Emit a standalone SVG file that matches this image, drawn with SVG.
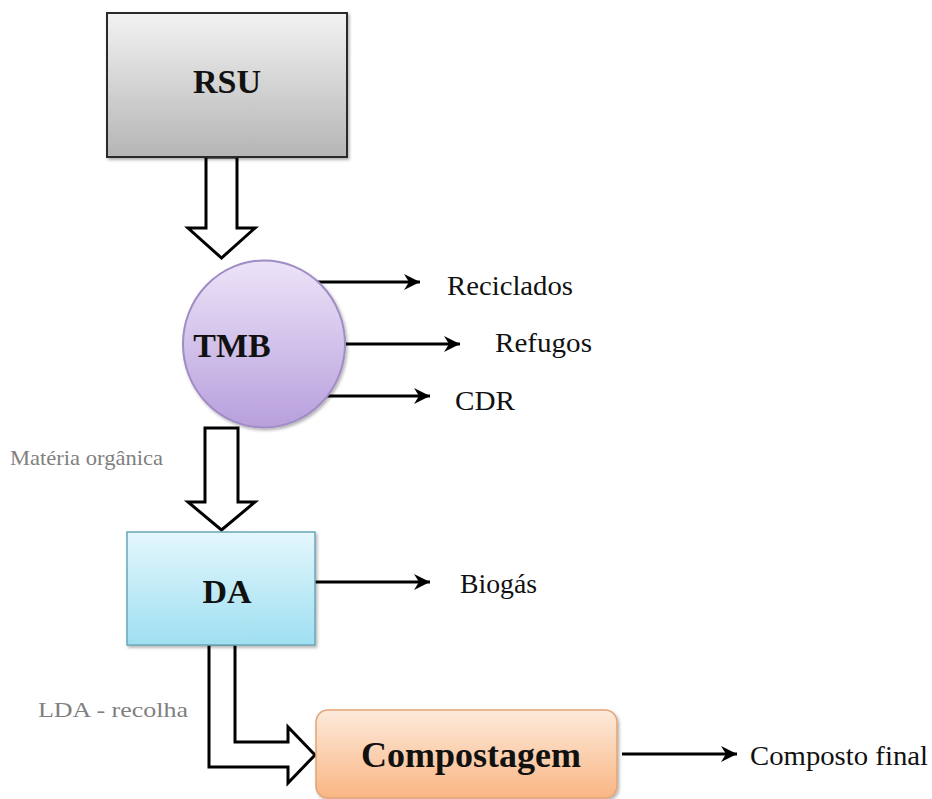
<svg xmlns="http://www.w3.org/2000/svg" width="932" height="799" viewBox="0 0 932 799">
<defs>
  <linearGradient id="gRSU" x1="0" y1="0" x2="0" y2="1">
    <stop offset="0" stop-color="#f2f2f2"/>
    <stop offset="1" stop-color="#b5b5b5"/>
  </linearGradient>
  <linearGradient id="gTMB" x1="0" y1="0" x2="0" y2="1">
    <stop offset="0" stop-color="#ece3f8"/>
    <stop offset="1" stop-color="#b8a0dc"/>
  </linearGradient>
  <linearGradient id="gDA" x1="0" y1="0" x2="0" y2="1">
    <stop offset="0" stop-color="#e4f7fc"/>
    <stop offset="1" stop-color="#9edff1"/>
  </linearGradient>
  <linearGradient id="gCOMP" x1="0" y1="0" x2="0" y2="1">
    <stop offset="0" stop-color="#fdeadb"/>
    <stop offset="1" stop-color="#f9b684"/>
  </linearGradient>
  <filter id="sh" x="-10%" y="-10%" width="125%" height="125%">
    <feDropShadow dx="1.5" dy="2" stdDeviation="1.5" flood-color="#000" flood-opacity="0.3"/>
  </filter>
  <marker id="ah" markerUnits="userSpaceOnUse" markerWidth="18" markerHeight="18" viewBox="0 0 18 18" refX="17" refY="9" orient="auto">
    <path d="M1,1 L17,9 L1,17 L6,9 Z" fill="#000"/>
  </marker>
  <style>
    .bold { font-weight: bold; fill: #111; text-anchor: middle; }
    .lbl { font-size: 28px; fill: #111; }
    .gray { font-size: 22px; fill: #808080; }
    .thin { stroke: #000; stroke-width: 3; fill: none; marker-end: url(#ah); }
    .block { fill: #fff; stroke: #000; stroke-width: 3; stroke-linejoin: miter; }
  </style>
</defs>
<rect width="932" height="799" fill="#fff"/>

<g id="connectors">
  <path class="block" d="M206,157 L237,157 L237,228 L255,228 L221.5,258 L188,228 L206,228 Z"/>
  <path class="block" d="M205,428 L238,428 L238,502 L255,502 L221.5,530 L188,502 L205,502 Z"/>
  <path class="block" d="M209,644 L235,644 L235,742 L288,742 L288,727 L315,755 L288,783 L288,767 L209,767 Z"/>
  <line class="thin" x1="303" y1="282" x2="420" y2="282"/>
  <line class="thin" x1="345" y1="344" x2="460" y2="344"/>
  <line class="thin" x1="315" y1="396" x2="430" y2="396"/>
  <line class="thin" x1="315" y1="582" x2="430" y2="582"/>
  <line class="thin" x1="622" y1="754" x2="737" y2="754"/>
</g>

<g font-family="Liberation Serif, Times New Roman, serif">
<g id="rsu">
  <rect x="107" y="13" width="240" height="144" fill="url(#gRSU)" stroke="#2a2a2a" stroke-width="2" filter="url(#sh)"/>
  <text class="bold" x="227" y="93" font-size="34">RSU</text>
</g>

<g id="tmb">
  <ellipse cx="264" cy="344" rx="81" ry="83.5" fill="url(#gTMB)" stroke="#a08cc4" stroke-width="2" filter="url(#sh)"/>
  <text class="bold" x="232" y="357" font-size="34">TMB</text>
</g>

<g id="da">
  <rect x="127" y="532" width="188" height="113" fill="url(#gDA)" stroke="#6aa7b8" stroke-width="1.5" filter="url(#sh)"/>
  <text class="bold" x="227" y="603" font-size="34">DA</text>
</g>

<g id="compostagem">
  <rect x="316" y="710" width="301" height="88" rx="12" ry="12" fill="url(#gCOMP)" stroke="#e2a476" stroke-width="1.5" filter="url(#sh)"/>
  <text class="bold" x="471" y="767" font-size="36">Compostagem</text>
</g>

<g id="labels">
  <text class="lbl" x="447" y="295" textLength="126" lengthAdjust="spacingAndGlyphs">Reciclados</text>
  <text class="lbl" x="495" y="352" textLength="97" lengthAdjust="spacingAndGlyphs">Refugos</text>
  <text class="lbl" x="455" y="410" textLength="60" lengthAdjust="spacingAndGlyphs">CDR</text>
  <text class="lbl" x="460" y="593" textLength="77" lengthAdjust="spacingAndGlyphs">Biogás</text>
  <text class="lbl" x="750" y="765" textLength="178" lengthAdjust="spacingAndGlyphs">Composto final</text>
  <text class="gray" x="10" y="465" textLength="153" lengthAdjust="spacingAndGlyphs">Matéria orgânica</text>
  <text class="gray" x="38" y="717" textLength="150" lengthAdjust="spacingAndGlyphs">LDA - recolha</text>
</g>
</g>
</svg>
